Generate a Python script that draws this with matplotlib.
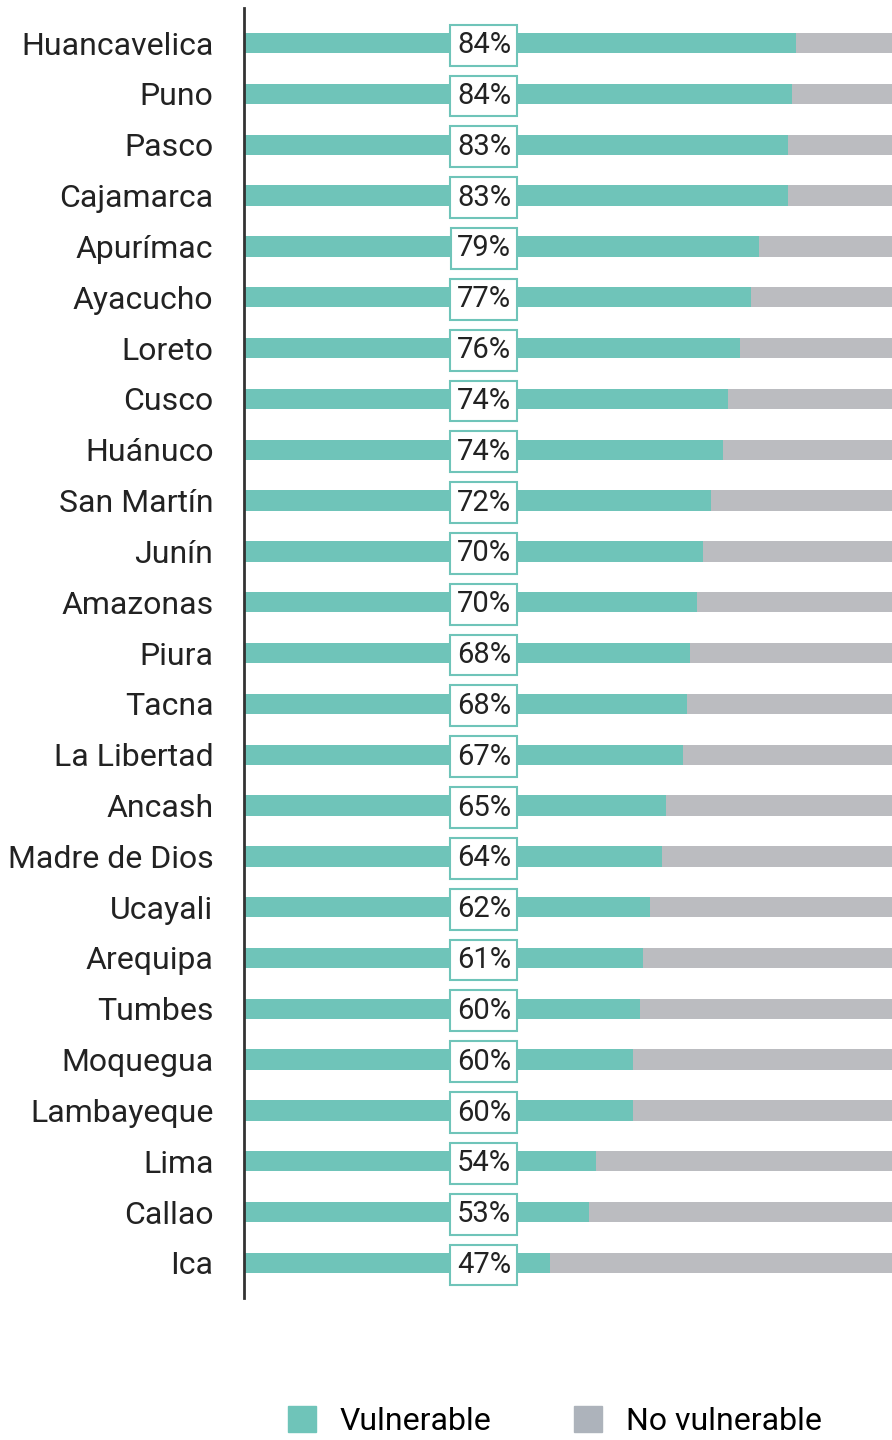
import matplotlib
matplotlib.use("Agg")
import matplotlib.pyplot as plt
from matplotlib.patches import Patch

plt.rcParams['font.family'] = ['Roboto', 'DejaVu Sans']

regions = ['Huancavelica', 'Puno', 'Pasco', 'Cajamarca', 'Apurímac', 'Ayacucho', 'Loreto',
           'Cusco', 'Huánuco', 'San Martín', 'Junín', 'Amazonas', 'Piura', 'Tacna',
           'La Libertad', 'Ancash', 'Madre de Dios', 'Ucayali', 'Arequipa', 'Tumbes',
           'Moquegua', 'Lambayeque', 'Lima', 'Callao', 'Ica']
vulnerable = [84.4, 83.8, 83.2, 83.2, 78.7, 77.5, 75.8, 74.0, 73.2, 71.4, 70.2, 69.3, 68.2,
              67.7, 67.1, 64.5, 63.9, 62.1, 61.0, 60.6, 59.5, 59.5, 53.9, 52.8, 46.8]
labels = ['84%', '84%', '83%', '83%', '79%', '77%', '76%', '74%', '74%', '72%', '70%', '70%',
          '68%', '68%', '67%', '65%', '64%', '62%', '61%', '60%', '60%', '60%', '54%', '53%', '47%']
no_vulnerable = [100 - v for v in vulnerable]

teal = '#6fc4b9'
grey = '#bbbcc0'

fig = plt.figure(figsize=(8.92, 14.4), dpi=100)
ax = fig.add_axes([0.2735, 0.0986, 0.7265, 0.8958])

y = list(range(len(regions)))
ax.barh(y, vulnerable, height=0.4, color=teal)
ax.barh(y, no_vulnerable, left=vulnerable, height=0.4, color=grey)

for i, lab in enumerate(labels):
    ax.text(36.7, i + 0.04, lab, ha='center', va='center', fontsize=21, color='#222222',
            bbox=dict(boxstyle='square,pad=0.22', fc='white', ec=teal, lw=1.5))

ax.set_xlim(0, 99.1)
ax.set_ylim(len(regions) - 0.31, -0.69)
ax.set_yticks(y)
ax.set_yticklabels(regions, fontsize=23, color='#222222')
ax.tick_params(axis='y', length=0, pad=22)
ax.set_xticks([])
for s in ['top', 'right', 'bottom']:
    ax.spines[s].set_visible(False)
ax.spines['left'].set_linewidth(2)
ax.spines['left'].set_color('#333333')

handles = [Patch(color=teal, label='Vulnerable'), Patch(color='#adb3bb', label='No vulnerable')]
fig.legend(handles=handles, loc='lower center', bbox_to_anchor=(0.622, -0.017), ncol=2,
           frameon=False, fontsize=23, handlelength=0.875, handleheight=0.875,
           columnspacing=2.6, handletextpad=0.75)

fig.savefig('out.png', dpi=100)
